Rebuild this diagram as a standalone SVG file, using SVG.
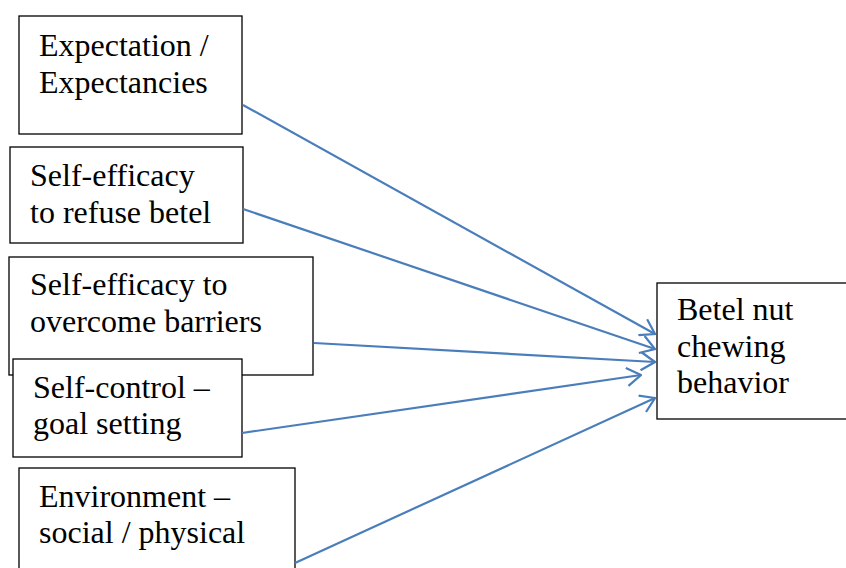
<svg xmlns="http://www.w3.org/2000/svg" width="846" height="568" viewBox="0 0 846 568">
<defs>
<style>
.box{fill:#fff;stroke:#000;stroke-width:1.3}
.c{stroke:#4a7ebb;stroke-width:2.2;fill:none;marker-end:url(#ah)}
</style>
<marker id="ah" viewBox="0 0 16 20" refX="15" refY="10" markerWidth="16" markerHeight="20" markerUnits="userSpaceOnUse" orient="auto">
<path d="M1,1 L15,10 L1,19" fill="none" stroke="#4a7ebb" stroke-width="2.2"/>
</marker>
</defs>
<rect width="846" height="568" fill="#fff"/>
<g font-family="'Liberation Serif', 'Times New Roman', serif" font-size="32" fill="#000">
<g id="n1"><rect class="box" x="19" y="16" width="223" height="118"/>
<text x="39" y="56">Expectation /</text><text x="39" y="93">Expectancies</text></g>
<g id="n2"><rect class="box" x="10" y="147" width="233" height="96"/>
<text x="30" y="186">Self-efficacy</text><text x="30" y="223">to refuse betel</text></g>
<g id="n3"><rect class="box" x="9" y="257" width="304" height="118"/>
<text x="30" y="295">Self-efficacy to</text><text x="30" y="332">overcome barriers</text></g>
<g id="n4"><rect class="box" x="13" y="359" width="229" height="98"/>
<text x="33" y="398">Self-control –</text><text x="33" y="434">goal setting</text></g>
<g id="n5"><rect class="box" x="19" y="468" width="276" height="110"/>
<text x="39" y="507">Environment –</text><text x="39" y="543">social / physical</text></g>
<g id="target"><rect class="box" x="657" y="283" width="200" height="136"/>
<text x="677" y="320">Betel nut</text><text x="677" y="357">chewing</text><text x="677" y="393">behavior</text></g>
</g>
<g id="connectors">
<line class="c" x1="243" y1="105" x2="655" y2="334"/>
<line class="c" x1="243" y1="209" x2="655" y2="349"/>
<line class="c" x1="314" y1="343" x2="655" y2="362"/>
<line class="c" x1="242" y1="433" x2="641" y2="375"/>
<line class="c" x1="295" y1="563" x2="655" y2="398"/>
</g>
</svg>
